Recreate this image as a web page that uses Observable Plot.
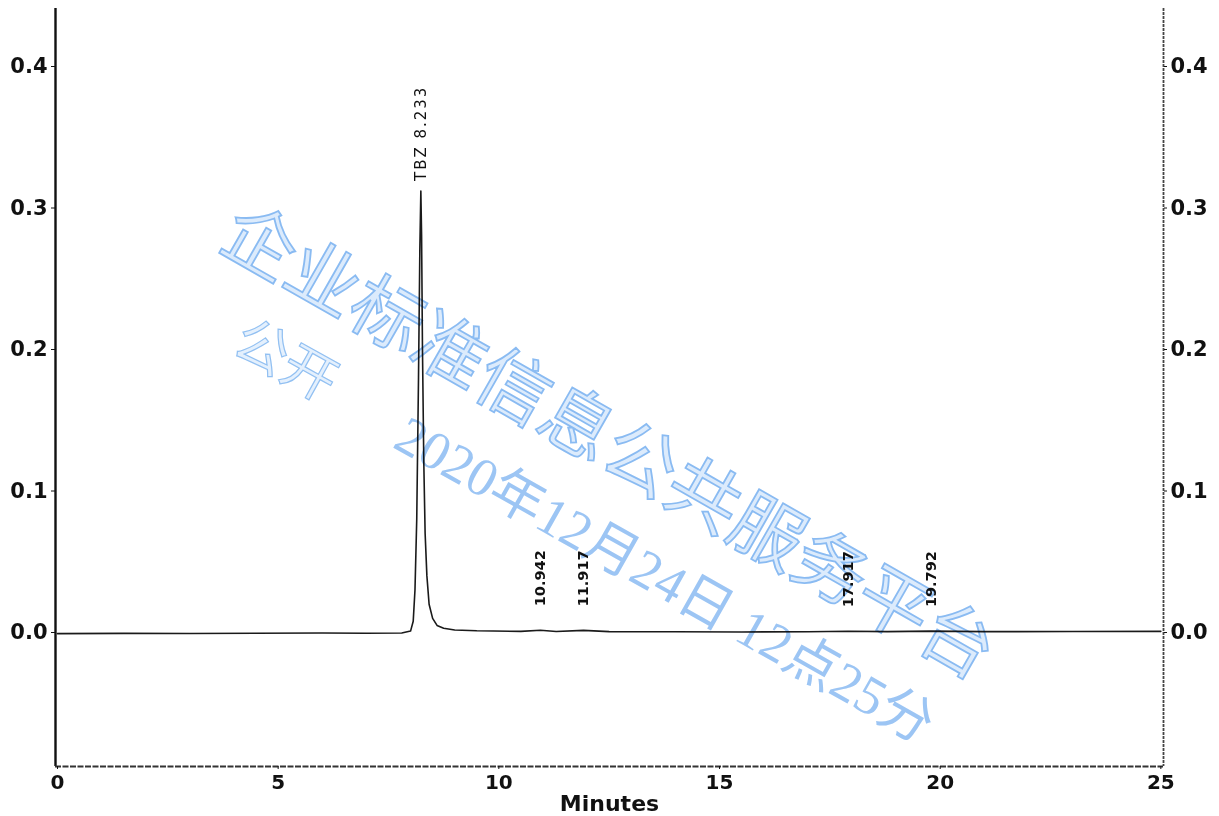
<!DOCTYPE html>
<html>
<head>
<meta charset="utf-8">
<script src="https://cdn.jsdelivr.net/npm/d3@7"></script>
<script src="https://cdn.jsdelivr.net/npm/@observablehq/plot@0.6"></script>
<style>
  html, body { margin: 0; padding: 0; background: #fff; }
  #wrap { position: relative; width: 1219px; height: 816px; overflow: hidden; }
  .wm { position: absolute; white-space: nowrap; transform-origin: center center;
        pointer-events: none; mix-blend-mode: multiply; line-height: 1; }
  .wm-main { font-family: "Noto Sans CJK SC", sans-serif; font-size: 73px;
             color: #dcebfc; -webkit-text-stroke: 1.8px #8abbf2; }
  .wm-thin { font-family: "Liberation Serif", "Noto Sans CJK SC", serif; font-size: 54px;
             color: #9cc5f4; }
  .wm-open { font-family: "Noto Sans CJK SC", sans-serif; font-size: 54px;
             color: #e4f0fd; -webkit-text-stroke: 1.2px #92c0f2; }
</style>
</head>
<body>
<div id="wrap"></div>
<script>
// Detector trace (retention time in minutes, absorbance in AU)
const traceTime = [0, 1.5, 3, 4.5, 6, 7, 7.8, 8.0, 8.06, 8.10, 8.14, 8.18, 8.21, 8.233,
  8.25, 8.27, 8.30, 8.33, 8.37, 8.42, 8.50, 8.60, 8.75, 9.0, 9.5, 10.5, 10.942, 11.3,
  11.917, 12.5, 14, 15.5, 17, 17.917, 18.8, 19.792, 21, 23, 25];
const traceValue = [-0.0008, -0.0006, -0.0007, -0.0005, -0.0004, -0.0005, -0.0004, 0.001, 0.008, 0.03, 0.08, 0.18, 0.27, 0.312,
  0.28, 0.20, 0.12, 0.07, 0.04, 0.02, 0.01, 0.005, 0.003, 0.0018, 0.0012, 0.0008, 0.0016, 0.0007,
  0.0015, 0.0006, 0.0005, 0.0004, 0.0005, 0.0009, 0.0006, 0.0010, 0.0006, 0.0007, 0.0008];

// Integrated peaks: name (if identified), retention time, apex height
const peakName = ["TBZ", "", "", "", ""];
const peakTime = [8.233, 10.942, 11.917, 17.917, 19.792];
const peakHeight = [0.312, 0.0016, 0.0015, 0.0009, 0.0010];

// Axis ticks and title
const xTicks = [0, 5, 10, 15, 20, 25];
const yTicks = [0.0, 0.1, 0.2, 0.3, 0.4];
const xTitle = "Minutes";
const xDomain = [-0.045, 25.06];
const yDomain = [-0.0947, 0.441];

const trace = traceTime.map((t, i) => ({t, v: traceValue[i]}));
const peaks = peakTime.map((t, i) => ({
  t, h: peakHeight[i], named: !!peakName[i],
  label: peakName[i] ? `${peakName[i]} ${t.toFixed(3)}` : t.toFixed(3)
}));

const chart = Plot.plot({
  width: 1219,
  height: 816,
  marginLeft: 55,
  marginRight: 56,
  marginTop: 8,
  marginBottom: 50,
  style: {fontFamily: "DejaVu Sans", fontWeight: "bold", color: "#111", background: "#fff"},
  x: {domain: xDomain},
  y: {domain: yDomain},
  marks: [
    // plot borders: left, right, bottom (no top)
    Plot.ruleX([xDomain[0]], {stroke: "#111", strokeWidth: 2.4}),
    Plot.ruleX([xDomain[1]], {stroke: "#444", strokeWidth: 1.8, strokeDasharray: "3,1"}),
    Plot.ruleY([yDomain[0]], {stroke: "#333", strokeWidth: 2, strokeDasharray: "6,1.5"}),
    Plot.axisY({anchor: "left", ticks: yTicks, tickFormat: d3.format(".1f"), tickSize: 4, tickPadding: 4,
      fontSize: 21, label: null}),
    Plot.axisY({anchor: "right", ticks: yTicks, tickFormat: d3.format(".1f"), tickSize: 3, tickPadding: 4,
      fontSize: 21, label: null}),
    Plot.axisX({anchor: "bottom", ticks: xTicks, tickFormat: d3.format("d"), tickSize: 3, tickPadding: 5,
      fontSize: 20, label: null}),
    Plot.text([xTitle], {frameAnchor: "bottom", lineAnchor: "middle", dy: 37, text: d => d,
      fontSize: 22, fontWeight: "bold", fill: "#111"}),
    // chromatogram
    Plot.line(trace, {x: "t", y: "v", stroke: "#1a1a1a", strokeWidth: 1.6}),
    // identified peak label
    Plot.text(peaks.filter(d => d.named), {
      x: "t", y: "h", text: "label", rotate: -90, textAnchor: "start", dy: -10,
      fontFamily: "DejaVu Sans", fontWeight: "normal", fontSize: 15, fill: "#111"
    }),
    // unidentified peak labels
    Plot.text(peaks.filter(d => !d.named), {
      x: "t", y: "h", text: "label", rotate: -90, textAnchor: "start", dy: -24,
      fontFamily: "DejaVu Sans", fontWeight: "bold", fontSize: 14.5, fill: "#111"
    })
  ]
});

const wrap = document.getElementById("wrap");
wrap.appendChild(chart);
// wider tracking on the identified-peak label
chart.querySelectorAll("g[aria-label='text'] text").forEach(t => {
  if (t.textContent.startsWith("TBZ")) t.setAttribute("letter-spacing", "2");
});

// publication watermark
const marks = [
  {cls: "wm wm-main", text: "企业标准信息公共服务平台", cx: 612, cy: 436, angle: 29.7},
  {cls: "wm wm-open", text: "公开", cx: 288, cy: 357, angle: 29},
  {cls: "wm wm-thin", text: "2020年12月24日 12点25分", cx: 665, cy: 580, angle: 29.4}
];
for (const m of marks) {
  const div = document.createElement("div");
  div.className = m.cls;
  div.textContent = m.text;
  wrap.appendChild(div);
  const w = div.offsetWidth, h = div.offsetHeight;
  div.style.left = (m.cx - w / 2) + "px";
  div.style.top = (m.cy - h / 2) + "px";
  div.style.transform = `rotate(${m.angle}deg)`;
}
</script>
</body>
</html>
